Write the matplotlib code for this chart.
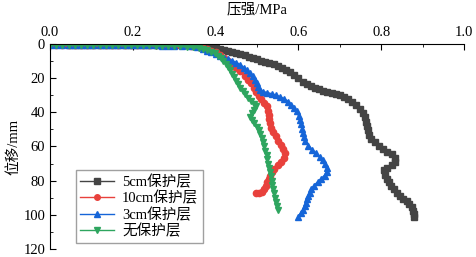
import matplotlib
matplotlib.use('Agg')
import matplotlib.pyplot as plt
from matplotlib.ticker import MultipleLocator

plt.rcParams['font.family'] = ['Liberation Serif', 'Noto Sans CJK SC']

# 5cm保护层
p_5cm = [0.0, 0.015, 0.03, 0.045, 0.06, 0.075, 0.09, 0.105, 0.12, 0.135, 0.15, 0.165, 0.18,
         0.195, 0.21, 0.225, 0.24, 0.255, 0.27, 0.285, 0.30, 0.315, 0.33, 0.345,
         0.36, 0.37, 0.38, 0.39, 0.40, 0.41, 0.42, 0.43, 0.44, 0.45, 0.46, 0.47, 0.48, 0.49,
         0.50, 0.51, 0.52, 0.53, 0.54, 0.55, 0.56, 0.57, 0.58, 0.59, 0.60, 0.61, 0.62, 0.63,
         0.64, 0.65, 0.66, 0.67, 0.68, 0.69, 0.70, 0.71, 0.72, 0.73, 0.74, 0.748, 0.755,
         0.76, 0.763, 0.765, 0.767, 0.77, 0.776, 0.784, 0.794, 0.805, 0.815, 0.825, 0.832,
         0.834, 0.826, 0.814, 0.806, 0.808, 0.813, 0.818, 0.824, 0.83, 0.837, 0.845, 0.853,
         0.862, 0.868, 0.873, 0.876, 0.878, 0.878]
d_5cm = [0.3, 0.3, 0.3, 0.4, 0.4, 0.4, 0.4, 0.4, 0.5, 0.5, 0.5, 0.5, 0.5,
         0.5, 0.5, 0.6, 0.6, 0.6, 0.6, 0.7, 0.7, 0.7, 0.8, 0.9,
         1.0, 1.3, 1.6, 2.0, 2.5, 3.0, 3.5, 4.0, 4.5, 5.2, 6.0, 6.7, 7.5, 8.2,
         9.0, 9.7, 10.5, 11.2, 12.0, 13.0, 14.0, 15.2, 16.5, 18.0, 20.0, 22.0, 23.5, 24.5,
         25.5, 26.5, 27.5, 28.2, 28.8, 29.3, 30.0, 31.0, 32.3, 34.0, 35.8, 38.0, 40.5,
         43.0, 45.5, 48.0, 50.5, 53.0, 55.5, 57.5, 59.5, 61.5, 63.0, 64.5, 66.5,
         69.0, 71.0, 72.5, 74.0, 76.5, 79.0, 81.0, 83.0, 85.0, 87.0, 89.0, 90.5,
         92.0, 93.5, 95.5, 97.5, 99.5, 101.0]

# 10cm保护层
p_10cm = [0.0, 0.015, 0.03, 0.045, 0.06, 0.075, 0.09, 0.105, 0.12, 0.135, 0.15, 0.165, 0.18,
          0.195, 0.21, 0.225, 0.24, 0.255, 0.27, 0.285, 0.30, 0.315, 0.33, 0.34,
          0.35, 0.36, 0.37, 0.38, 0.39, 0.40, 0.41, 0.42, 0.43, 0.44, 0.45, 0.46, 0.47, 0.478,
          0.485, 0.492, 0.498, 0.504, 0.51, 0.518, 0.524, 0.527, 0.528, 0.529, 0.531, 0.534,
          0.539, 0.545, 0.551, 0.557, 0.563, 0.567, 0.566, 0.559, 0.55, 0.541, 0.535, 0.531,
          0.528, 0.525, 0.522, 0.518, 0.512, 0.505, 0.498]
d_10cm = [0.5, 0.5, 0.5, 0.5, 0.5, 0.6, 0.6, 0.6, 0.6, 0.6, 0.7, 0.7, 0.7,
          0.7, 0.7, 0.7, 0.8, 0.8, 0.8, 0.8, 0.8, 0.9, 0.9, 1.0,
          1.2, 1.6, 2.2, 3.0, 4.0, 5.0, 6.5, 8.0, 10.0, 12.0, 14.0, 16.0, 18.5, 21.0,
          23.0, 25.5, 28.0, 30.5, 32.5, 34.5, 36.5, 39.0, 41.5, 44.0, 46.5, 49.0,
          51.5, 54.0, 56.5, 59.0, 61.5, 64.0, 66.5, 69.0, 71.0, 73.0, 75.0, 77.0,
          79.0, 81.0, 83.0, 85.0, 86.5, 87.2, 87.5]

# 3cm保护层
p_3cm = [0.0, 0.015, 0.03, 0.045, 0.06, 0.075, 0.09, 0.105, 0.12, 0.135, 0.15, 0.165, 0.18,
         0.195, 0.21, 0.225, 0.24, 0.255, 0.27, 0.285, 0.30, 0.32, 0.34, 0.355,
         0.37, 0.38, 0.39, 0.40, 0.41, 0.42, 0.43, 0.44, 0.45, 0.46, 0.468, 0.476, 0.483,
         0.49, 0.495, 0.50, 0.503, 0.506, 0.515, 0.525, 0.535, 0.545, 0.555, 0.565, 0.575,
         0.583, 0.59, 0.596, 0.601, 0.604, 0.607, 0.609, 0.611, 0.613, 0.617, 0.624, 0.633,
         0.642, 0.651, 0.659, 0.665, 0.668, 0.668, 0.663, 0.655, 0.646, 0.638, 0.631, 0.627,
         0.624, 0.621, 0.618, 0.615, 0.611, 0.606, 0.60]
d_3cm = [0.6, 0.6, 0.6, 0.6, 0.7, 0.7, 0.7, 0.7, 0.7, 0.8, 0.8, 0.8, 0.8,
         0.8, 0.9, 0.9, 0.9, 0.9, 1.0, 1.0, 1.0, 1.2, 1.4, 2.0,
         3.0, 4.0, 5.0, 6.0, 7.0, 8.0, 9.0, 10.0, 11.0, 12.5, 14.0, 15.5, 17.0,
         19.0, 21.0, 23.0, 25.0, 27.0, 28.0, 28.7, 29.3, 30.0, 31.0, 32.2, 33.8,
         35.5, 37.5, 39.5, 42.0, 44.5, 47.0, 49.5, 52.0, 54.5, 57.0, 59.5, 62.0,
         64.0, 66.0, 68.0, 70.0, 72.5, 75.0, 77.0, 79.0, 81.0, 83.0, 85.0, 87.0,
         89.0, 91.0, 93.0, 95.0, 97.0, 99.0, 101.0]

# 无保护层
p_none = [0.0, 0.015, 0.03, 0.045, 0.06, 0.075, 0.09, 0.105, 0.12, 0.135, 0.15, 0.165, 0.18,
          0.195, 0.21, 0.225, 0.24, 0.255, 0.27, 0.285, 0.30, 0.315, 0.33, 0.345,
          0.36, 0.37, 0.38, 0.39, 0.398, 0.405, 0.412, 0.419, 0.425, 0.43, 0.435, 0.44,
          0.445, 0.45, 0.455, 0.46, 0.465, 0.47, 0.477, 0.485, 0.493, 0.497, 0.492, 0.487,
          0.484, 0.487, 0.493, 0.499, 0.504, 0.508, 0.511, 0.514, 0.517, 0.52, 0.523, 0.525,
          0.527, 0.529, 0.531, 0.533, 0.535, 0.537, 0.539, 0.541, 0.543, 0.545, 0.548, 0.551]
d_none = [0.6, 0.6, 0.6, 0.7, 0.7, 0.7, 0.7, 0.8, 0.8, 0.8, 0.8, 0.8, 0.9,
          0.9, 0.9, 0.9, 0.9, 1.0, 1.0, 1.0, 1.1, 1.3, 1.6, 1.9,
          2.3, 2.9, 3.6, 4.5, 5.5, 7.0, 8.5, 10.0, 11.5, 13.5, 15.5, 17.5,
          19.5, 21.5, 23.5, 25.5, 27.5, 29.5, 31.5, 33.5, 35.0, 36.5, 38.5, 40.5,
          42.5, 44.5, 46.5, 48.5, 50.5, 52.5, 55.0, 57.5, 60.0, 62.5, 65.0, 67.5,
          70.0, 72.5, 75.0, 77.5, 80.0, 82.5, 85.0, 87.5, 90.0, 92.5, 95.0, 97.0]

fig = plt.figure(figsize=(4.76, 2.57), dpi=100)
ax = fig.add_axes([0.105, 0.031, 0.87, 0.798])

ax.plot(p_5cm, d_5cm, color='#444444', marker='s', markersize=4.5, linewidth=1.5, label='5cm保护层')
ax.plot(p_10cm, d_10cm, color='#e8413c', marker='o', markersize=4.5, linewidth=1.5, label='10cm保护层')
ax.plot(p_3cm, d_3cm, color='#1565d8', marker='^', markersize=4.5, linewidth=1.5, label='3cm保护层')
ax.plot(p_none, d_none, color='#2ea55f', marker='v', markersize=4.5, linewidth=1.5, label='无保护层')

ax.set_xlim(0, 1.0)
ax.set_ylim(120, 0)
ax.xaxis.set_major_locator(MultipleLocator(0.2))
ax.xaxis.set_minor_locator(MultipleLocator(0.1))
ax.yaxis.set_major_locator(MultipleLocator(20))
ax.yaxis.set_minor_locator(MultipleLocator(10))
ax.xaxis.tick_top()
ax.xaxis.set_label_position('top')
ax.tick_params(which='both', direction='in', top=True, bottom=False, right=False, labelsize=10.5)
ax.tick_params(which='major', length=4)
ax.tick_params(which='minor', length=2.5)
ax.set_xticks([0.0, 0.2, 0.4, 0.6, 0.8, 1.0])
ax.set_xticklabels(['0.0', '0.2', '0.4', '0.6', '0.8', '1.0'])
ax.spines['bottom'].set_visible(False)
ax.spines['right'].set_visible(False)
ax.set_xlabel('压强/MPa', fontsize=10.5, labelpad=9)
ax.set_ylabel('位移/mm', fontsize=10.5, labelpad=2)

leg = ax.legend(loc='lower left', bbox_to_anchor=(0.063, 0.03), borderaxespad=0, fontsize=10.5,
                frameon=True, fancybox=False, edgecolor='#888888', handlelength=2.3,
                labelspacing=0.15, borderpad=0.3, handletextpad=0.55)
for h in leg.get_lines():
    h.set_linewidth(1.0)
    h.set_markersize(4)

fig.savefig('out.png', dpi=100)
